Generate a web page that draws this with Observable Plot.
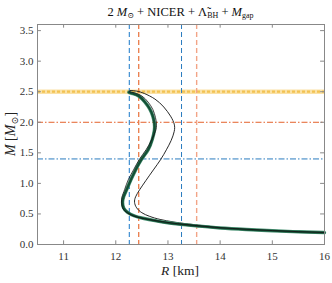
<!DOCTYPE html>
<html>
<head>
<meta charset="utf-8">
<script src="https://cdn.jsdelivr.net/npm/d3@7"></script>
<script src="https://cdn.jsdelivr.net/npm/@observablehq/plot@0.6"></script>
<style>
  body { margin: 0; background: #fff; }
  #title { height: 22px; box-sizing: border-box; padding: 4px 8px 0 37px; text-align: center;
           font-family: "Liberation Serif", "DejaVu Serif", serif; font-size: 12.5px; line-height: 16px; color: #111; }
  #title sub { font-size: 8px; vertical-align: -2px; line-height: 0; }
</style>
</head>
<body>
<div id="title">2 <i>M</i><sub>⊙</sub> + NICER + Λ̃<sub>BH</sub> + <i>M</i><sub>gap</sub></div>
<div id="chart"></div>
<script>
// ---- data ----
const xTicks = [11, 12, 13, 14, 15, 16];
const yTicks = [0, 0.5, 1, 1.5, 2, 2.5, 3, 3.5];

const greenR = [12.25, 12.32, 12.44, 12.56, 12.65, 12.71, 12.74, 12.74, 12.70, 12.62, 12.49, 12.38, 12.29, 12.21, 12.15, 12.13, 12.15, 12.22, 12.35, 12.52, 12.75, 13.0, 13.25, 13.6, 14.0, 14.5, 15.0, 15.5, 16.0];
const greenM = [2.49, 2.47, 2.43, 2.33, 2.22, 2.10, 1.98, 1.87, 1.72, 1.55, 1.39, 1.22, 1.06, 0.90, 0.78, 0.69, 0.60, 0.53, 0.47, 0.43, 0.39, 0.355, 0.33, 0.30, 0.27, 0.245, 0.225, 0.208, 0.195];

const outerR = [12.27, 12.40, 12.55, 12.75, 12.92, 13.05, 13.12, 13.12, 13.06, 12.97, 12.86, 12.72, 12.58, 12.46, 12.38, 12.36, 12.40, 12.50, 12.65, 12.85, 13.1, 13.4, 14.0, 14.5, 15.0, 15.5, 16.0];
const outerM = [2.52, 2.51, 2.47, 2.38, 2.25, 2.10, 1.97, 1.85, 1.70, 1.55, 1.39, 1.22, 1.05, 0.90, 0.78, 0.69, 0.60, 0.52, 0.46, 0.41, 0.37, 0.335, 0.28, 0.252, 0.23, 0.212, 0.198];

const innerR = [12.26, 12.36, 12.50, 12.62, 12.71, 12.76, 12.78, 12.76, 12.68, 12.58, 12.45, 12.34, 12.24, 12.17, 12.12, 12.11, 12.13, 12.20, 12.33, 12.50, 12.73, 13.0, 13.25, 13.6, 14.0, 14.5, 15.0, 15.5, 16.0];
const innerM = [2.50, 2.48, 2.43, 2.33, 2.21, 2.08, 1.97, 1.85, 1.70, 1.55, 1.39, 1.22, 1.06, 0.90, 0.78, 0.69, 0.60, 0.53, 0.47, 0.43, 0.395, 0.36, 0.335, 0.305, 0.275, 0.25, 0.228, 0.21, 0.197];

const mGap = 2.5;        // yellow band
const mTwo = 2.0;        // 2 Msun
const mCanon = 1.4;      // 1.4 Msun
const vLines = [
  {r: 12.26, color: "#3f8fd2", w: 1.2},
  {r: 12.44, color: "#e8703a", w: 1.2},
  {r: 13.26, color: "#2a7bbf", w: 1.0},
  {r: 13.55, color: "#f2a487", w: 1.4}
];

const toPts = (R, M) => R.map((r, i) => ({r, m: M[i]}));
const green = toPts(greenR, greenM);
const outer = toPts(outerR, outerM);
const inner = toPts(innerR, innerM);

const xDom = [10.5, 16], yDom = [0, 3.6];
const font = '"Liberation Serif", "DejaVu Serif", serif';

const plot = Plot.plot({
  width: 332,
  height: 261,
  marginTop: 2,
  marginBottom: 39,
  marginLeft: 37,
  marginRight: 8,
  x: {domain: xDom},
  y: {domain: yDom},
  style: {fontFamily: font, fontSize: "11px", color: "#333", background: "#fff"},
  marks: [
    // reference lines
    Plot.ruleY([mGap], {stroke: "#fbe2a6", strokeWidth: 4.5}),
    Plot.ruleY([mGap], {stroke: "#f2c252", strokeWidth: 2.2, strokeDasharray: "3,2"}),
    Plot.ruleY([mTwo], {stroke: "#e4622c", strokeWidth: 1, strokeDasharray: "6,2,1.5,2"}),
    Plot.ruleY([mCanon], {stroke: "#2a7bbf", strokeWidth: 1, strokeDasharray: "6,2,1.5,2"}),
    Plot.ruleX(vLines, {x: "r", stroke: "color", strokeWidth: "w", strokeDasharray: "5,3"}),
    // curves
    Plot.line(outer, {x: "r", y: "m", stroke: "#111", strokeWidth: 0.9, curve: "natural"}),
    Plot.line(green, {x: "r", y: "m", stroke: "#4a9274", strokeWidth: 3.4, curve: "natural"}),
    Plot.line(green, {x: "r", y: "m", stroke: "#134f35", strokeWidth: 2.2, curve: "natural"}),
    Plot.line(inner, {x: "r", y: "m", stroke: "#111", strokeWidth: 0.8, curve: "natural"}),
    // axes
    Plot.axisX(xTicks, {tickSize: 0, tickPadding: 8, label: null, fontFamily: font}),
    Plot.axisY(yTicks, {tickSize: 0, tickPadding: 4, label: null, fontFamily: font}),
    Plot.ruleX(xTicks, {y1: 0, y2: 0.06, stroke: "#888"}),
    Plot.ruleX(xTicks, {y1: 3.54, y2: 3.6, stroke: "#888"}),
    Plot.ruleY(yTicks, {x1: 10.5, x2: 10.575, stroke: "#888"}),
    Plot.ruleY(yTicks, {x1: 15.925, x2: 16, stroke: "#888"}),
    Plot.frame({stroke: "#888", strokeWidth: 1})
  ]
});

document.getElementById("chart").appendChild(plot);

// axis labels with italics / subscripts
const svg = d3.select(plot);
const xl = svg.append("text")
  .attr("x", 180).attr("y", 253)
  .attr("text-anchor", "middle")
  .attr("font-family", font).attr("font-size", 13.5).attr("fill", "#222");
xl.append("tspan").attr("font-style", "italic").text("R");
xl.append("tspan").text(" [km]");

const yl = svg.append("text")
  .attr("transform", "translate(15,112) rotate(-90)")
  .attr("text-anchor", "middle")
  .attr("font-family", font).attr("font-size", 14).attr("fill", "#222");
yl.append("tspan").attr("font-style", "italic").text("M");
yl.append("tspan").text(" [");
yl.append("tspan").attr("font-style", "italic").text("M");
yl.append("tspan").attr("font-size", 9.5).attr("dy", 3).attr("font-family", '"DejaVu Serif", serif').text("⊙");
yl.append("tspan").attr("dy", -3).text("]");
</script>
</body>
</html>
